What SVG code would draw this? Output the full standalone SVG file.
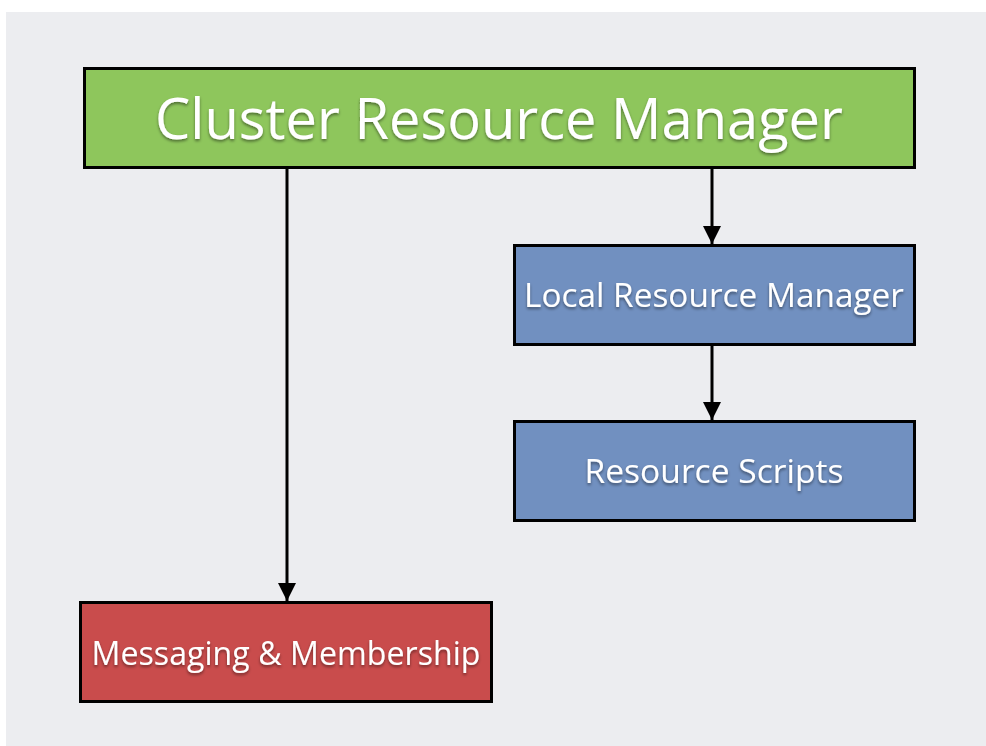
<svg xmlns="http://www.w3.org/2000/svg" width="986" height="746" viewBox="0 0 986 746">
<defs>
<style>
.box{stroke:#000;stroke-width:3}
.lbl{font-family:"Open Sans","Liberation Sans",sans-serif;fill:#fff;text-anchor:middle;filter:url(#sh)}
.conn{stroke:#000;stroke-width:3;fill:none;marker-end:url(#arr)}
</style>
<filter id="sh" x="-5%" y="-20%" width="110%" height="150%">
<feDropShadow dx="0" dy="2" stdDeviation="1.5" flood-color="#000" flood-opacity="0.45"/>
</filter>
<marker id="arr" viewBox="0 0 10 10" refX="10" refY="5" markerWidth="6" markerHeight="6" markerUnits="strokeWidth" orient="auto">
<path d="M0,0 L10,5 L0,10 z" fill="#000"/>
</marker>
</defs>
<rect x="0" y="0" width="986" height="746" fill="#ffffff"/>
<rect x="6" y="12" width="980" height="734" fill="#ecedf0"/>
<g id="connectors">
<line class="conn" x1="287" y1="169" x2="287" y2="601"/>
<line class="conn" x1="712" y1="169" x2="712" y2="244"/>
<line class="conn" x1="712" y1="346" x2="712" y2="420"/>
</g>
<g id="crm">
<rect class="box" x="84.5" y="68.5" width="830" height="99" fill="#8ec65c"/>
<text class="lbl" x="499" y="139" font-size="56" textLength="688" lengthAdjust="spacingAndGlyphs">Cluster Resource Manager</text>
</g>
<g id="lrm">
<rect class="box" x="514.5" y="245.5" width="400" height="99" fill="#7190c0"/>
<text class="lbl" x="714" y="307" font-size="32" textLength="380" lengthAdjust="spacingAndGlyphs">Local Resource Manager</text>
</g>
<g id="scripts">
<rect class="box" x="514.5" y="421.5" width="400" height="99" fill="#7190c0"/>
<text class="lbl" x="714" y="483" font-size="32" textLength="259" lengthAdjust="spacingAndGlyphs">Resource Scripts</text>
</g>
<g id="messaging">
<rect class="box" x="80.5" y="602.5" width="411" height="99" fill="#c94c4c"/>
<text class="lbl" x="286" y="665" font-size="32" textLength="389" lengthAdjust="spacingAndGlyphs">Messaging &amp; Membership</text>
</g>
</svg>
